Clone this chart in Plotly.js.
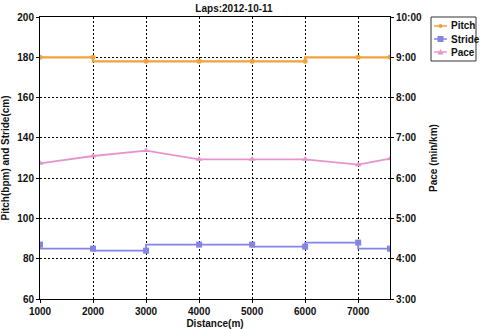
<!DOCTYPE html>
<html><head><meta charset="utf-8">
<script src="https://cdn.plot.ly/plotly-3.0.1.min.js"></script>
<style>html,body{margin:0;padding:0;background:#fff}#c{width:480px;height:329px}</style>
</head><body><div id="c"></div>
<script>
const distance = [1000, 2000, 3000, 4000, 5000, 6000, 7000, 7600];
const pitch = [180, 180, 178, 178, 178, 178, 180, 180];
const stride = [87, 85, 84, 87, 87, 86, 88, 85];
const paceSec = [382, 393, 401, 388, 388, 388, 380, 389];
const leftTicks = [60, 80, 100, 120, 140, 160, 180, 200];
const paceTickVals = [180, 240, 300, 360, 420, 480, 540, 600];
const paceTickText = ['3:00', '4:00', '5:00', '6:00', '7:00', '8:00', '9:00', '10:00'];
const xTicks = [1000, 2000, 3000, 4000, 5000, 6000, 7000];
const seriesNames = ['Pitch', 'Stride', 'Pace'];

const colors = {Pitch: '#f2a23c', Stride: '#8484e4', Pace: '#e894cc'};
const font = {family: 'Liberation Sans, Arial, sans-serif', size: 10, color: '#111'};
const bold = s => '<b>' + s + '</b>';

const traces = [
  {x: distance, y: pitch, name: 'Pitch', mode: 'lines+markers', line: {shape: 'vh', color: colors.Pitch, width: 2.2}, marker: {symbol: 'circle', size: 5, color: colors.Pitch}},
  {x: distance, y: stride, name: 'Stride', mode: 'lines+markers', line: {shape: 'vh', color: colors.Stride, width: 1.8}, marker: {symbol: 'square', size: 6, color: colors.Stride}},
  {x: distance, y: paceSec, name: 'Pace', yaxis: 'y2', mode: 'lines+markers', line: {color: colors.Pace, width: 1.8}, marker: {symbol: 'triangle-up', size: 6, color: colors.Pace}}
];

// plot area in pixels
const L = 40, R = 390, T = 17, B = 299;
const px = v => (v - L) / (R - L);
const py = v => (B - v) / (B - T);

const shapes = [{type: 'rect', xref: 'paper', yref: 'paper', x0: px(431), x1: px(476), y0: py(17), y1: py(61), line: {color: '#333', width: 1}, fillcolor: '#fff', layer: 'above'}];
const annotations = [];
seriesNames.forEach((n, i) => {
  const yy = 26 + i * 13;
  shapes.push({type: 'line', xref: 'paper', yref: 'paper', x0: px(434), x1: px(447), y0: py(yy), y1: py(yy), line: {color: colors[n], width: 1.5}});
  annotations.push({xref: 'paper', yref: 'paper', x: px(449), y: py(yy), xanchor: 'left', yanchor: 'middle', text: bold(n), showarrow: false, font: Object.assign({}, font, {size: 10})});
});
shapes.push({type: 'circle', xref: 'paper', yref: 'paper', x0: px(438.5), x1: px(442.5), y0: py(24), y1: py(28), fillcolor: colors.Pitch, line: {width: 0}});
shapes.push({type: 'rect', xref: 'paper', yref: 'paper', x0: px(437.5), x1: px(443.5), y0: py(36), y1: py(42), fillcolor: colors.Stride, line: {width: 0}});
shapes.push({type: 'path', xref: 'paper', yref: 'paper', path: 'M ' + px(437.5) + ' ' + py(54.5) + ' L ' + px(443.5) + ' ' + py(54.5) + ' L ' + px(440.5) + ' ' + py(49) + ' Z', fillcolor: colors.Pace, line: {width: 0}});

const grid = {gridcolor: '#000', griddash: '2px,2px', gridwidth: 1};

const layout = {
  width: 480, height: 329,
  margin: {l: L, r: 480 - R, t: T, b: 329 - B, pad: 0},
  paper_bgcolor: '#fff', plot_bgcolor: '#fff',
  showlegend: false,
  font: font,
  title: {text: bold('Laps:2012-10-11'), x: 0.4875, xanchor: 'center', y: 0.985, yanchor: 'top', font: Object.assign({}, font, {size: 10})},
  xaxis: Object.assign({range: [1000, 7600], tickvals: xTicks, ticktext: xTicks.map(v => bold(v)), showline: true, linecolor: '#000', linewidth: 1, mirror: true, ticks: 'outside', ticklen: 3, tickcolor: '#000', zeroline: false,
    title: {text: bold('Distance(m)'), standoff: 6, font: Object.assign({}, font, {size: 10})}}, grid),
  yaxis: Object.assign({range: [60, 200], tickvals: leftTicks, ticktext: leftTicks.map(v => bold(v)), showline: true, linecolor: '#000', linewidth: 1, ticks: 'outside', ticklen: 3, tickcolor: '#000', zeroline: false,
    title: {text: bold('Pitch(bpm) and Stride(cm)'), standoff: 6, font: Object.assign({}, font, {size: 10})}}, grid),
  yaxis2: {overlaying: 'y', side: 'right', range: [180, 600], tickvals: paceTickVals, ticktext: paceTickText.map(bold), showgrid: false, showline: true, linecolor: '#000', linewidth: 1, ticks: 'outside', ticklen: 3, tickcolor: '#000', zeroline: false,
    title: {text: bold('Pace (min/km)'), standoff: 8, font: Object.assign({}, font, {size: 10})}},
  shapes: shapes,
  annotations: annotations
};

Plotly.newPlot('c', traces, layout, {staticPlot: true, displayModeBar: false});
</script></body></html>
